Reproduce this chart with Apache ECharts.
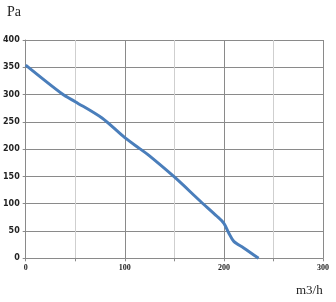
<!DOCTYPE html>
<html><head><meta charset="utf-8">
<script src="https://cdn.jsdelivr.net/npm/echarts@6/dist/echarts.min.js"></script>
<style>html,body{margin:0;padding:0;background:#fff}#c{width:336px;height:302px}</style>
</head><body><div id="c"></div>
<script>
const flow = [0, 37, 50, 77, 100, 115, 124, 150, 176, 193, 200, 205, 210, 220, 235];
const pressure = [354, 301, 287, 257, 221, 201, 189, 149, 105, 77, 64, 46, 31, 19, 0];
const xTicks = [0, 100, 200, 300];
const yTicks = [0, 50, 100, 150, 200, 250, 300, 350, 400];
const yName = 'Pa';
const xName = 'm3/h';

const chart = echarts.init(document.getElementById('c'), null, {renderer: 'canvas'});
chart.setOption({
  animation: false,
  grid: {left: 25, top: 40, width: 298, height: 218.3, containLabel: false},
  xAxis: {
    type: 'value', min: 0, max: 300, interval: 50,
    axisLine: {show: true, lineStyle: {color: '#8a8a8a', width: 1}},
    axisTick: {show: true, length: 3, lineStyle: {color: '#8a8a8a'}},
    splitLine: {show: true, lineStyle: {color: ['#8a8a8a', '#cfcfcf'], width: 1}},
    axisLabel: {
      margin: 6, color: '#222', fontFamily: 'Liberation Serif', fontWeight: 'bold', fontSize: 8,
      formatter: v => xTicks.includes(v) ? String(v) : ''
    }
  },
  yAxis: {
    type: 'value', min: 0, max: 400, interval: 50,
    axisLine: {show: true, lineStyle: {color: '#8a8a8a', width: 1}},
    axisTick: {show: true, length: 3, lineStyle: {color: '#8a8a8a'}},
    splitLine: {show: true, lineStyle: {color: '#8a8a8a', width: 1}},
    axisLabel: {
      margin: 6, color: '#222', fontFamily: 'DejaVu Sans', fontWeight: 'bold', fontSize: 8,
      formatter: v => yTicks.includes(v) ? String(v) : ''
    }
  },
  graphic: [
    {type: 'text', left: 7, top: 5, style: {text: yName, font: '14px "Liberation Serif"', fill: '#222'}},
    {type: 'text', left: 296, top: 284, style: {text: xName, font: '13px "Liberation Serif"', fill: '#222'}}
  ],
  series: [{
    type: 'line',
    data: flow.map((x, i) => [x, pressure[i]]),
    smooth: 0.3,
    showSymbol: false,
    lineStyle: {color: '#4a7ebb', width: 3},
    clip: false
  }]
});
</script></body></html>
